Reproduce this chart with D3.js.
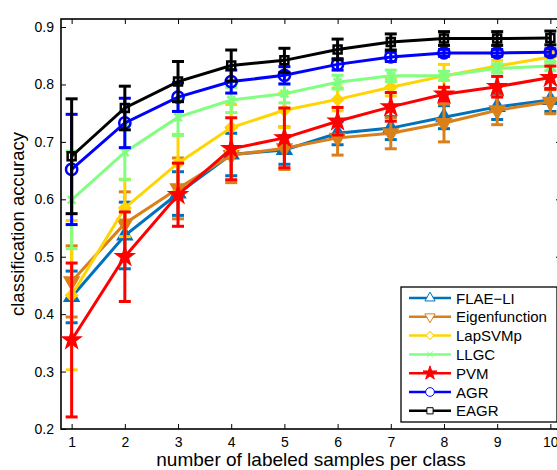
<!DOCTYPE html>
<html>
<head>
<meta charset="utf-8">
<script src="https://cdn.jsdelivr.net/npm/d3@7"></script>
<style>
  body { margin: 0; background: #fff; }
  text { font-family: "Liberation Sans", Arial, sans-serif; }
</style>
</head>
<body>
<div id="chart"></div>
<script>
// samples per class
var xValues = [1, 2, 3, 4, 5, 6, 7, 8, 9, 10];
var xTicks = [1, 2, 3, 4, 5, 6, 7, 8, 9, 10];
var yTicks = [0.2, 0.3, 0.4, 0.5, 0.6, 0.7, 0.8, 0.9];

var seriesNames = ["FLAE\u2212LI", "Eigenfunction", "LapSVMp", "LLGC", "PVM", "AGR", "EAGR"];
var seriesColors = ["#0072bd", "#d9801a", "#ffd400", "#80ff80", "#ff0000", "#0000ff", "#000000"];
var seriesMarkers = ["triangle", "triangleDown", "diamond", "x", "star", "circle", "square"];

// mean accuracy
var flaeMean  = [0.430, 0.537, 0.610, 0.678, 0.686, 0.715, 0.724, 0.743, 0.761, 0.773];
var eigenMean = [0.457, 0.558, 0.619, 0.677, 0.689, 0.707, 0.715, 0.733, 0.755, 0.770];
var lapMean   = [0.433, 0.585, 0.663, 0.725, 0.755, 0.774, 0.795, 0.815, 0.832, 0.848];
var llgcMean  = [0.599, 0.682, 0.743, 0.773, 0.784, 0.804, 0.815, 0.815, 0.828, 0.832];
var pvmMean   = [0.355, 0.500, 0.608, 0.688, 0.707, 0.736, 0.761, 0.783, 0.796, 0.812];
var agrMean   = [0.652, 0.733, 0.778, 0.805, 0.816, 0.835, 0.848, 0.855, 0.855, 0.856];
var eagrMean  = [0.675, 0.759, 0.805, 0.833, 0.842, 0.861, 0.874, 0.880, 0.880, 0.881];

// error bar half lengths
var flaeErr  = [0.045, 0.058, 0.038, 0.037, 0.025, 0.020, 0.020, 0.020, 0.022, 0.020];
var eigenErr = [0.062, 0.055, 0.053, 0.048, 0.037, 0.030, 0.027, 0.033, 0.025, 0.021];
var lapErr   = [0.130, 0.050, 0.050, 0.040, 0.030, 0.020, 0.015, 0.020, 0.010, 0.010];
var llgcErr  = [0.085, 0.048, 0.032, 0.022, 0.016, 0.012, 0.010, 0.008, 0.008, 0.008];
var pvmErr   = [0.134, 0.078, 0.055, 0.054, 0.052, 0.024, 0.025, 0.012, 0.018, 0.020];
var agrErr   = [0.096, 0.043, 0.025, 0.020, 0.015, 0.010, 0.008, 0.006, 0.006, 0.006];
var eagrErr  = [0.100, 0.038, 0.035, 0.027, 0.021, 0.018, 0.014, 0.012, 0.012, 0.012];

var means = [flaeMean, eigenMean, lapMean, llgcMean, pvmMean, agrMean, eagrMean];
var errs = [flaeErr, eigenErr, lapErr, llgcErr, pvmErr, agrErr, eagrErr];

var series = seriesNames.map(function (name, i) {
    return {
        name: name, color: seriesColors[i], marker: seriesMarkers[i],
        points: xValues.map(function (x, j) { return { x: x, y: means[i][j], e: errs[i][j] }; })
    };
});

//Dimensions and Margins
var margin = { top: 19, right: -4, bottom: 41, left: 61 },
    width = 557 - margin.left - margin.right,
    height = 470 - margin.top - margin.bottom;

var svg = d3.select("#chart")
    .append("svg")
    .attr("width", 557)
    .attr("height", 470)
    .append("g")
    .attr("transform", "translate(" + margin.left + "," + margin.top + ")");

var x = d3.scaleLinear().domain([0.8, 10.2]).range([0, width]);
var y = d3.scaleLinear().domain([0.2, 0.914]).range([height, 0]);

// marker shapes
function markerPath(type, big) {
    var s = big ? 1 : 0.6;
    switch (type) {
        case "triangle": return d3.symbol().type(d3.symbolTriangle).size(75 * s)();
        case "triangleDown": return d3.symbol().type(d3.symbolTriangle).size(75 * s)();
        case "diamond": return d3.symbol().type(d3.symbolSquare).size(55 * s)();
        case "x": return d3.symbol().type(d3.symbolX).size(40 * s)();
        case "star": return d3.symbol().type(d3.symbolStar).size(big ? 70 : 60)();
        case "circle": return d3.symbol().type(d3.symbolCircle).size(100 * s)();
        case "square": return d3.symbol().type(d3.symbolSquare).size(64 * s)();
    }
}
function markerRotate(type) {
    if (type === "triangleDown") return 180;
    if (type === "diamond") return 45;
    return 0;
}
function markerFill(type, color) {
    if (type === "circle" || type === "square" || type === "x") return "none";
    return color;
}

//Axes (inward ticks, box)
svg.append("g")
    .attr("transform", "translate(0," + height + ")")
    .call(d3.axisBottom(x).tickValues(xTicks).tickSizeInner(-5).tickSizeOuter(0).tickPadding(8))
    .call(function (g) { g.select(".domain").remove(); });
svg.append("g")
    .call(d3.axisTop(x).tickValues(xTicks).tickSizeInner(-5).tickSizeOuter(0).tickFormat(""))
    .call(function (g) { g.select(".domain").remove(); });
svg.append("g")
    .call(d3.axisLeft(y).tickValues(yTicks).tickSizeInner(-5).tickSizeOuter(0).tickPadding(7).tickFormat(d3.format(".1f")))
    .call(function (g) { g.select(".domain").remove(); });
svg.append("g")
    .attr("transform", "translate(" + width + ",0)")
    .call(d3.axisRight(y).tickValues(yTicks).tickSizeInner(-5).tickSizeOuter(0).tickFormat(""))
    .call(function (g) { g.select(".domain").remove(); });

svg.selectAll(".tick text")
    .style("font-size", "14px")
    .attr("fill", "#000");
svg.selectAll(".tick line").attr("stroke", "#000").attr("stroke-width", 1);

svg.append("rect")
    .attr("x", 0).attr("y", 0)
    .attr("width", width).attr("height", height)
    .attr("fill", "none")
    .attr("stroke", "#000")
    .attr("stroke-width", 1.6);

//Series
var line = d3.line().x(function (d) { return x(d.x); }).y(function (d) { return y(d.y); });

series.forEach(function (s) {
    var g = svg.append("g");
    // error bars
    g.selectAll("line.eb")
        .data(s.points).enter().append("line")
        .attr("x1", function (d) { return x(d.x); })
        .attr("x2", function (d) { return x(d.x); })
        .attr("y1", function (d) { return y(d.y - d.e); })
        .attr("y2", function (d) { return y(d.y + d.e); })
        .attr("stroke", s.color).attr("stroke-width", 3);
    [-1, 1].forEach(function (sign) {
        g.selectAll("line.cap" + sign)
            .data(s.points).enter().append("line")
            .attr("x1", function (d) { return x(d.x) - 6; })
            .attr("x2", function (d) { return x(d.x) + 6; })
            .attr("y1", function (d) { return y(d.y + sign * d.e); })
            .attr("y2", function (d) { return y(d.y + sign * d.e); })
            .attr("stroke", s.color).attr("stroke-width", 3);
    });
    g.append("path")
        .datum(s.points)
        .attr("d", line)
        .attr("fill", "none")
        .attr("stroke", s.color)
        .attr("stroke-width", 3);
    g.selectAll("path.mk")
        .data(s.points).enter().append("path")
        .attr("d", markerPath(s.marker, true))
        .attr("transform", function (d) {
            return "translate(" + x(d.x) + "," + y(d.y) + ")rotate(" + markerRotate(s.marker) + ")";
        })
        .attr("fill", markerFill(s.marker, s.color))
        .attr("stroke", s.color)
        .attr("stroke-width", 2.5);
});

//Legend
var lg = svg.append("g").attr("transform", "translate(" + (401 - margin.left) + "," + (287 - margin.top) + ")");
lg.append("rect")
    .attr("width", 156).attr("height", 135)
    .attr("fill", "#fff").attr("stroke", "#000").attr("stroke-width", 1.3);
series.forEach(function (s, i) {
    var row = lg.append("g").attr("transform", "translate(0," + (11 + i * 18.8) + ")");
    row.append("line")
        .attr("x1", 8).attr("x2", 50)
        .attr("stroke", s.color).attr("stroke-width", 2.5);
    row.append("path")
        .attr("d", markerPath(s.marker, false))
        .attr("transform", "translate(29,0)rotate(" + markerRotate(s.marker) + ")")
        .attr("fill", s.marker === "star" ? s.color : "#fff")
        .attr("stroke", s.color).attr("stroke-width", 1);
    row.append("text")
        .attr("x", 55).attr("y", 5.5)
        .style("font-size", "15px")
        .text(s.name);
});

//X Axis label
svg.append("text")
    .attr("x", width / 2)
    .attr("y", height + 37)
    .attr("text-anchor", "middle")
    .style("font-size", "19px")
    .text("number of labeled samples per class");

//Y Axis label
svg.append("text")
    .attr("transform", "rotate(-90)")
    .attr("x", -height / 2)
    .attr("y", -37)
    .attr("text-anchor", "middle")
    .style("font-size", "18.5px")
    .text("classification accuracy");
</script>
</body>
</html>
